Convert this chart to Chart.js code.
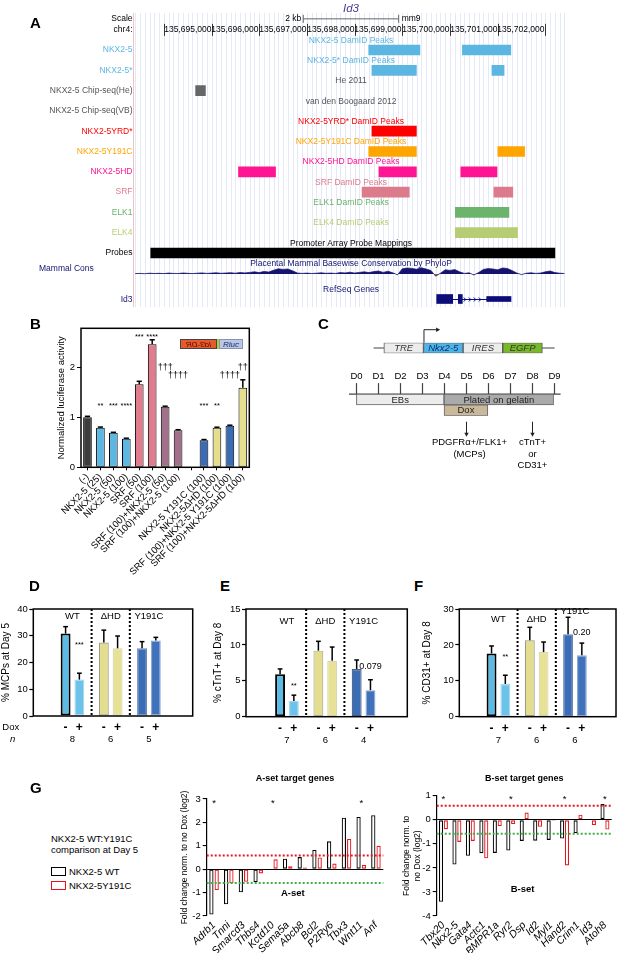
<!DOCTYPE html>
<html>
<head>
<meta charset="utf-8">
<title>NKX2-5 / SRF at the Id3 locus</title>
<script src="https://cdn.jsdelivr.net/npm/chart.js@4.4.1/dist/chart.umd.min.js"></script>
<style>
  html, body { margin: 0; background: #fff; }
  body { position: relative; width: 617px; height: 953px; overflow: hidden;
         font-family: "Liberation Sans", Arial, Helvetica, sans-serif; color: #000; }
  canvas { position: absolute; }
  .panel { position: absolute; font-size: 15px; font-weight: bold; line-height: 1; }
  .inset { position: absolute; top: 339px; height: 10px; box-sizing: border-box;
           font-size: 8px; line-height: 9px; text-align: center; font-style: italic; }
  .legend { position: absolute; font-size: 9.5px; line-height: 11px; white-space: nowrap; }
  .swatch { position: absolute; left: 51px; width: 15px; height: 9px; box-sizing: border-box; }
</style>
</head>
<body>

<canvas id="trackChart"></canvas>
<canvas id="consChart"></canvas>
<canvas id="geneChart"></canvas>
<canvas id="lucChart"></canvas>
<canvas id="constructChart"></canvas>
<canvas id="timeChart"></canvas>
<canvas id="mcpChart"></canvas>
<canvas id="ctntChart"></canvas>
<canvas id="cd31Chart"></canvas>
<canvas id="asetChart"></canvas>
<canvas id="bsetChart"></canvas>

<div class="panel" style="left:30px;top:15px">A</div>
<div class="panel" style="left:30px;top:316px">B</div>
<div class="panel" style="left:318px;top:316px">C</div>
<div class="panel" style="left:29px;top:578px">D</div>
<div class="panel" style="left:220px;top:578px">E</div>
<div class="panel" style="left:414px;top:578px">F</div>
<div class="panel" style="left:30px;top:780px">G</div>

<!-- reporter construct inset of panel B -->
<div class="inset" style="left:180px;width:37px;background:#e8592b;border:1px solid #444;color:#4a1206">
  <span style="display:inline-block;transform:scaleX(-1)">Id3-DR</span></div>
<div class="inset" style="left:216.5px;width:2.5px;background:#a6d13c"></div>
<div class="inset" style="left:219px;width:24px;background:#b9c8e7;border:1px solid #8a94aa;color:#1d2a5a">Rluc</div>

<!-- legend of panel G -->
<div class="legend" style="left:51px;top:833px">NKX2-5 WT:Y191C<br>comparison at Day 5</div>
<div class="swatch" style="top:867px;border:1.4px solid #000"></div>
<div class="legend" style="left:69px;top:866px">NKX2-5 WT</div>
<div class="swatch" style="top:881px;border:1.4px solid #e3161e"></div>
<div class="legend" style="left:69px;top:880px">NKX2-5Y191C</div>

<script>
const FONT = '"Liberation Sans", Arial, Helvetica, sans-serif';
const NAVY = '#141470';

/* ---------- A: Id3 locus, mm9 chr4 ---------- */
const LOCUS_MIN = 135693375;
const LOCUS_MAX = 135702474;
const RULER_TICKS = [135694000, 135695000, 135696000, 135697000, 135698000,
                     135699000, 135700000, 135701000, 135702000];
const SCALE_BAR = [135696924, 135698924];
const TRACK_LABELS = ['NKX2-5', 'NKX2-5*', 'NKX2-5 Chip-seq(He)', 'NKX2-5 Chip-seq(VB)', 'NKX2-5YRD*',
                      'NKX2-5Y191C', 'NKX2-5HD', 'SRF', 'ELK1', 'ELK4', 'Probes'];
const TRACK_TITLES = ['NKX2-5 DamID Peaks', 'NKX2-5* DamID Peaks', 'He 2011', 'van den Boogaard 2012',
                      'NKX2-5YRD* DamID Peaks', 'NKX2-5Y191C DamID Peaks', 'NKX2-5HD DamID Peaks',
                      'SRF DamID Peaks', 'ELK1 DamID Peaks', 'ELK4 DamID Peaks', 'Promoter Array Probe Mappings'];
const TRACK_TEXT_COLORS = ['#5cb6e2', '#5cb6e2', '#555555', '#555555', '#ff0000', '#ffa500',
                           '#ff1493', '#dc7b8c', '#6cb36c', '#b7cd74', '#000000'];
const TRACK_BAR_COLORS  = ['#5cb6e2', '#5cb6e2', '#666666', '#666666', '#ff0000', '#ffa500',
                           '#ff1493', '#dc7b8c', '#6cb36c', '#b7cd74', '#000000'];
const PEAK_TRACK = [0, 0, 1, 1, 2, 4, 5, 5, 6, 6, 6, 7, 7, 8, 9, 10];
const PEAK_START = [135698296, 135700260, 135698363, 135700879, 135694667, 135698363, 135698296, 135701003,
                    135695566, 135698511, 135700227, 135698157, 135700920, 135700112, 135700112, 135693726];
const PEAK_END   = [135699369, 135701275, 135699295, 135701134, 135694872, 135699295, 135699295, 135701564,
                    135696342, 135699295, 135700986, 135699147, 135701317, 135701235, 135701415, 135702199];
// phyloP, 100 bp bins from 135,693,400
const CONS_BIN0 = 135693400;
const CONS_BIN = 100;
const CONS_SCORE = [0.4, 0.6, 0.3, 0.8, 0.5, 0.7, 0.4, 0.9, 0.6, 0.5, 1.0, 0.7, 0.4, 0.8, 1.1, 0.6, 0.9, 1.2,
                    0.7, 1.0, 1.3, 0.8, 1.5, 1.1, 1.6, 2.2, 1.4, 2.6, 2.0, 3.8, 5.2, 4.6, 5.0, 3.2,
                    1.0, 0.6, 0.9, 0.5, 0.8, 1.2, 0.7, 0.9, 0.6, 1.4, 1.1, 1.8, 1.0, 1.6, 2.2, 1.4,
                    2.4, 3.0, 1.6, 2.8, 1.2, -0.8, 5.2, 6.0, 5.6, 4.8, 6.2, 5.0, 3.6, -2.2, 0.8,
                    4.2, 3.6, 4.4, 2.2, 0.6, 1.2, -1.0, 1.4, 4.6, 5.4, 5.0, 4.2, 6.0, 5.6, 3.4,
                    1.0, -0.6, 0.8, 1.2, 0.6, 1.0, 2.2, 3.0, 1.4, 0.8, 0.5];
const ID3_EXON_START = [135699721, 135700174, 135700769];
const ID3_EXON_END   = [135700057, 135700258, 135701279];
const ID3_EXON_CDS   = [true, true, false];

/* ---------- B: Id3-DR luciferase ---------- */
const LUC_LABELS = ['(-)', 'NKX2-5 (25)', 'NKX2-5 (50)', 'NKX2-5 (100)', 'SRF (50)', 'SRF (100)',
                    'SRF (100)+NKX2-5 (50)', 'SRF (100)+NKX2-5 (100)', '',
                    'NKX2-5 Y191C (100)', 'NKX2-5\u0394HD (100)', 'SRF (100)+NKX2-5 Y191C (100)',
                    'SRF (100)+NKX2-5\u0394HD (100)'];
const LUC_VALUES = [1.0, 0.79, 0.69, 0.57, 1.66, 2.46, 1.21, 0.74, null, 0.54, 0.79, 0.83, 1.59];
const LUC_ERRORS = [0.02, 0.015, 0.01, 0.012, 0.06, 0.09, 0.012, 0.012, null, 0.015, 0.012, 0.012, 0.16];
const LUC_COLORS = ['#3c3c3c', '#5cb8e2', '#5cb8e2', '#5cb8e2', '#e07c8c', '#e07c8c', '#a1708a', '#a1708a',
                    '#ffffff', '#3a6cb6', '#e4de8e', '#3a6cb6', '#e4de8e'];
const LUC_MARKS   = ['', '**', '***', '****', '***', '****', '\u2020\u2020\u2020', '\u2020\u2020\u2020\u2020', '',
                     '***', '**', '\u2020\u2020\u2020\u2020', '\u2020\u2020'];
const LUC_MARK_AT = [null, 1.27, 1.27, 1.27, 2.65, 2.65, 2.0, 1.83, null, 1.27, 1.27, 1.83, 2.0];

/* ---------- C: differentiation scheme ---------- */
const CONSTRUCT_PARTS  = ['TRE', 'Nkx2-5', 'IRES', 'EGFP'];
const CONSTRUCT_START  = [0, 1, 2, 3];
const CONSTRUCT_END    = [1, 2, 3, 4];
const CONSTRUCT_COLORS = ['#ececec', '#4fb4e6', '#ececec', '#79b82b'];
const DAYS = [0, 1, 2, 3, 4, 5, 6, 7, 8, 9];
const STAGES = ['EBs', 'Plated on gelatin', 'Dox'];
const STAGE_ROW = ['culture', 'culture', 'dox'];
const STAGE_START = [0, 4, 4];
const STAGE_END = [4, 9, 6];
const STAGE_COLORS = ['#ececec', '#aaaaaa', '#c9b99a'];
const READOUT_DAY = [5, 8];
const READOUT_TEXT = [['PDGFR\u03b1+/FLK1+', '(MCPs)'], ['cTnT+', 'or', 'CD31+']];

/* ---------- D-F: Dox induction ---------- */
const DOX_GROUPS = ['WT', '\u0394HD', 'Y191C'];
const DOX_SIGNS = ['-', '+'];
const MCP_NODOX = [30.8, 27.5, 25.3];
const MCP_NODOX_ERR = [2.6, 4.6, 2.5];
const MCP_DOX = [13.6, 25.3, 28.2];
const MCP_DOX_ERR = [2.4, 4.6, 1.2];
const MCP_N = [8, 6, 5];
const CTNT_NODOX = [5.9, 9.2, 6.65];
const CTNT_NODOX_ERR = [0.75, 1.3, 1.25];
const CTNT_DOX = [2.2, 7.8, 3.7];
const CTNT_DOX_ERR = [0.8, 1.9, 1.45];
const CTNT_N = [7, 6, 4];
const CD31_NODOX = [17.6, 21.3, 23.0];
const CD31_NODOX_ERR = [2.1, 3.6, 4.7];
const CD31_DOX = [9.1, 18.0, 17.1];
const CD31_DOX_ERR = [2.45, 2.8, 3.4];
const CD31_N = [7, 6, 6];

/* ---------- G: target genes, log2 fold change ---------- */
const ASET_GENES = ['Adrb1', 'Tnni', 'Smarcd3', 'Thbs4', 'Kctd10', 'Sema5a', 'Abcb8', 'Bcl2', 'P2Ry6', 'Tbx3', 'Wnt11', 'Anf'];
const ASET_WT    = [-1.94, -1.5, -0.99, -0.55, -0.03, 0.45, 0.52, 0.82, 1.19, 2.2, 2.23, 2.31];
const ASET_Y191C = [-0.89, -0.6, -0.54, -0.18, 0.42, 0.13, 0.07, 0.5, 0.24, 1.29, 0.18, 1.0];
const ASET_STARS = [0, 4, 10];
const BSET_GENES = ['Tbx20', 'Nkx2-5', 'Gata4', 'Actc1', 'BMPR1a', 'Ryr2', 'Dsp', 'Id2', 'Myl1', 'Hand2', 'Crim1', 'Id3', 'Atoh8'];
const BSET_WT    = [-3.41, -1.86, -1.5, -1.39, -1.38, -1.28, -0.88, -0.87, -0.84, -0.78, -0.55, 0, 0.65];
const BSET_Y191C = [-0.39, -0.92, -0.88, -1.6, -0.26, -0.18, 0.3, -0.29, -0.04, -1.9, 0.21, -0.22, -0.41];
const BSET_STARS = [0, 5, 9, 12];
const FC_CUTOFF = 0.585;


Chart.defaults.font.family = FONT;
Chart.defaults.font.size = 9;
Chart.defaults.color = '#000';
Chart.defaults.animation = false;
Chart.defaults.responsive = false;
Chart.defaults.devicePixelRatio = 1;
Chart.defaults.plugins.legend.display = false;
Chart.defaults.plugins.tooltip.enabled = false;

function place(id, left, top, w, h) {
  const cv = document.getElementById(id);
  cv.width = w; cv.height = h;
  cv.style.left = left + 'px';
  cv.style.top = top + 'px';
  return cv;
}

function drawText(ctx, str, x, y, o = {}) {
  ctx.save();
  ctx.font = `${o.style || 'normal'} ${o.weight || 'normal'} ${o.size || 9}px ${FONT}`;
  ctx.fillStyle = o.color || '#000';
  ctx.textAlign = o.align || 'center';
  ctx.textBaseline = o.base || 'middle';
  ctx.translate(x, y + (o.dy || 0));
  if (o.rot) ctx.rotate(o.rot);
  ctx.fillText(str, 0, 0);
  ctx.restore();
}

function seg(ctx, x1, y1, x2, y2) {
  ctx.beginPath(); ctx.moveTo(x1, y1); ctx.lineTo(x2, y2); ctx.stroke();
}

function arrowDown(ctx, x, y1, y2) {
  seg(ctx, x, y1, x, y2 - 3);
  ctx.beginPath(); ctx.moveTo(x - 2.2, y2 - 4); ctx.lineTo(x + 2.2, y2 - 4); ctx.lineTo(x, y2); ctx.closePath(); ctx.fill();
}

const withCommas = n => String(n).replace(/\B(?=(\d{3})+(?!\d))/g, ',');


// ── shared plugins ─────────────────────────────────────────────
const framePlugin = {
  id: 'frame',
  afterDatasetsDraw(chart) {
    const { ctx, chartArea: a } = chart;
    ctx.save();
    ctx.strokeStyle = '#000'; ctx.lineWidth = 1.5;
    ctx.strokeRect(a.left, a.top, a.width, a.height);
    ctx.restore();
  }
};

const errorPlugin = {
  id: 'errorBars',
  afterDatasetsDraw(chart, args, opts) {
    const { ctx, scales: { y } } = chart;
    ctx.save();
    ctx.strokeStyle = '#000'; ctx.lineWidth = 1.5;
    (opts.sets || []).forEach((errs, di) => {
      const vals = chart.data.datasets[di].data;
      chart.getDatasetMeta(di).data.forEach((bar, i) => {
        const e = errs[i], raw = vals[i];
        if (!e || raw === null) return;
        const v = typeof raw === 'object' ? raw.y : raw;
        const top = y.getPixelForValue(v + e);
        const half = bar.width * (opts.cap || 0.24);
        seg(ctx, bar.x, bar.y, bar.x, top);
        seg(ctx, bar.x - half, top, bar.x + half, top);
      });
    });
    ctx.restore();
  }
};

const notesPlugin = {
  id: 'notes',
  afterDatasetsDraw(chart, args, opts) {
    const { ctx, scales } = chart;
    (opts.items || []).forEach(n => {
      drawText(ctx, n.text, scales.x.getPixelForValue(n.xv), scales.y.getPixelForValue(n.yv), n);
    });
  }
};


// ── A: UCSC-style browser tracks ───────────────────────────────
const ucscPlugin = {
  id: 'ucsc',
  beforeDatasetsDraw(chart) {
    const { ctx, chartArea: a, scales: { x } } = chart;
    ctx.save();
    ctx.strokeStyle = '#e4e8f7'; ctx.lineWidth = 1;
    for (let p = Math.ceil(LOCUS_MIN / 100) * 100; p <= LOCUS_MAX; p += 100) {
      const px = Math.round(x.getPixelForValue(p)) + 0.5;
      seg(ctx, px, 13, px, 307);
    }
    ctx.strokeStyle = '#f1c2c2';
    seg(ctx, a.left - 0.5, 13, a.left - 0.5, 307);
    ctx.restore();
  },
  afterDatasetsDraw(chart) {
    const { ctx, chartArea: a, scales: { x, y } } = chart;
    const mid = (a.left + a.right) / 2;
    const f = { size: 8.5 };

    drawText(ctx, 'Id3', mid, 9, { size: 11.5, style: 'italic', color: '#4a3d8f' });

    // scale bar
    const sy = a.top - 21;
    const s0 = x.getPixelForValue(SCALE_BAR[0]), s1 = x.getPixelForValue(SCALE_BAR[1]);
    ctx.save();
    ctx.strokeStyle = '#666'; ctx.lineWidth = 1;
    seg(ctx, s0, sy, s1, sy);
    seg(ctx, s0, sy - 4, s0, sy + 4);
    seg(ctx, s1, sy - 4, s1, sy + 4);
    ctx.restore();
    drawText(ctx, 'Scale', a.left - 1.5, sy, { ...f, align: 'right' });
    drawText(ctx, '2 kb', s0 - 2, sy, { ...f, align: 'right' });
    drawText(ctx, 'mm9', s1 + 3, sy, { ...f, align: 'left' });

    // base position ruler
    const ry = a.top - 10;
    drawText(ctx, 'chr4:', a.left - 1.5, ry, { ...f, align: 'right' });
    ctx.save();
    ctx.strokeStyle = '#333'; ctx.lineWidth = 1;
    RULER_TICKS.forEach((p, i) => {
      const px = Math.round(x.getPixelForValue(p)) + 0.5;
      seg(ctx, px, ry - 6, px, ry + 6);
      if (i > 0) drawText(ctx, withCommas(p), px - 1, ry, { ...f, align: 'right' });
    });
    ctx.restore();

    // track names and titles
    TRACK_LABELS.forEach((lab, i) => {
      const py = y.getPixelForValue(i);
      drawText(ctx, lab, a.left - 1.5, py, { ...f, align: 'right', color: TRACK_TEXT_COLORS[i] });
      drawText(ctx, TRACK_TITLES[i], mid, py - 9.7, { ...f, color: TRACK_TEXT_COLORS[i] });
    });
    drawText(ctx, 'Placental Mammal Basewise Conservation by PhyloP', mid, a.bottom + 0.2, { ...f, color: NAVY });
    drawText(ctx, 'Mammal Cons', 39, a.bottom + 5.6, { ...f, align: 'left', color: NAVY });
    drawText(ctx, 'RefSeq Genes', mid, a.bottom + 26.2, { ...f, color: NAVY });
  }
};

new Chart(place('trackChart', 0, 0, 617, 310), {
  type: 'bar',
  data: {
    labels: TRACK_LABELS,
    datasets: [{
      data: PEAK_TRACK.map((t, i) => ({ x: [PEAK_START[i], PEAK_END[i]], y: TRACK_LABELS[t] })),
      backgroundColor: PEAK_TRACK.map(t => TRACK_BAR_COLORS[t]),
      borderWidth: 0,
      barThickness: 10
    }]
  },
  options: {
    indexAxis: 'y',
    layout: { padding: { left: 134, right: 49, top: 39.85, bottom: 46.85 } },
    scales: {
      x: { type: 'linear', min: LOCUS_MIN, max: LOCUS_MAX, display: false },
      y: { display: false }
    }
  },
  plugins: [ucscPlugin]
});

new Chart(place('consChart', 0, 262, 617, 16), {
  type: 'line',
  data: {
    datasets: [{
      data: CONS_SCORE.map((v, i) => ({ x: CONS_BIN0 + i * CONS_BIN, y: v })),
      borderColor: NAVY, borderWidth: 0.7, pointRadius: 0, tension: 0,
      fill: { target: 'origin', above: NAVY, below: '#a4553a' }
    }]
  },
  options: {
    layout: { padding: { left: 134, right: 49, top: 0, bottom: 0 } },
    scales: {
      x: { type: 'linear', min: LOCUS_MIN, max: LOCUS_MAX, display: false },
      y: { min: -4, max: 12, display: false }
    }
  }
});

const genePlugin = {
  id: 'gene',
  beforeDatasetsDraw(chart) {
    const { ctx, scales: { x, y } } = chart;
    const cy = y.getPixelForValue(0);
    const g0 = x.getPixelForValue(Math.min(...ID3_EXON_START));
    const g1 = x.getPixelForValue(Math.max(...ID3_EXON_END));
    ctx.save();
    ctx.strokeStyle = '#0c0c7a'; ctx.lineWidth = 1;
    seg(ctx, g0, cy + 0.5, g1, cy + 0.5);
    // strand chevrons along the intron
    const i0 = x.getPixelForValue(ID3_EXON_END[1]) + 3, i1 = x.getPixelForValue(ID3_EXON_START[2]) - 2;
    for (let px = i0; px < i1; px += 5) {
      ctx.beginPath(); ctx.moveTo(px - 1.5, cy - 1.5); ctx.lineTo(px + 0.5, cy + 0.5); ctx.lineTo(px - 1.5, cy + 2.5); ctx.stroke();
    }
    ctx.restore();
    drawText(ctx, 'Id3', 132.5, cy + 1, { size: 8.5, align: 'right', color: NAVY });
  }
};

new Chart(place('geneChart', 0, 292, 617, 14), {
  type: 'bar',
  data: {
    labels: ['Id3'],
    datasets: [
      { data: ID3_EXON_START.map((s, i) => ID3_EXON_CDS[i] ? { x: [s, ID3_EXON_END[i]], y: 'Id3' } : null).filter(Boolean),
        backgroundColor: '#0c0c7a', borderWidth: 0, barThickness: 9 },
      { data: ID3_EXON_START.map((s, i) => ID3_EXON_CDS[i] ? null : { x: [s, ID3_EXON_END[i]], y: 'Id3' }).filter(Boolean),
        backgroundColor: '#0c0c7a', borderWidth: 0, barThickness: 5 }
    ]
  },
  options: {
    indexAxis: 'y',
    datasets: { bar: { grouped: false } },
    layout: { padding: { left: 134, right: 49, top: 0, bottom: 0 } },
    scales: {
      x: { type: 'linear', min: LOCUS_MIN, max: LOCUS_MAX, display: false },
      y: { display: false }
    }
  },
  plugins: [genePlugin]
});


// ── B: luciferase reporter ─────────────────────────────────────
new Chart(place('lucChart', 0, 305, 262, 270), {
  type: 'bar',
  data: {
    labels: LUC_LABELS,
    datasets: [{
      data: LUC_VALUES,
      backgroundColor: LUC_COLORS,
      borderColor: '#000', borderWidth: 1, borderSkipped: false,
      barPercentage: 0.67, categoryPercentage: 1
    }]
  },
  options: {
    layout: { padding: { left: 52, right: 12.7, top: 23.3, bottom: 0 } },
    scales: {
      x: {
        grid: { drawOnChartArea: false, offset: false, tickLength: 3, tickColor: '#000' },
        border: { display: false },
        ticks: { maxRotation: 45, minRotation: 45, autoSkip: false, padding: 1, font: { size: 9.5 } },
        afterFit: s => { s.height = 107.7; }
      },
      y: {
        min: 0, max: 2.78,
        ticks: { stepSize: 1, includeBounds: false, padding: 2, font: { size: 9.5 } },
        grid: { drawOnChartArea: false, tickLength: 4, tickColor: '#000' },
        border: { display: false },
        title: { display: true, text: 'Normalized luciferase activity', font: { size: 9.5 }, padding: { top: 4, bottom: 0 } },
        afterFit: s => { s.width = 29; }
      }
    },
    plugins: {
      errorBars: { sets: [LUC_ERRORS], cap: 0.3 },
      notes: {
        items: LUC_MARKS.map((t, i) => t ? {
          xv: i, yv: LUC_MARK_AT[i], text: t,
          size: t.includes('*') ? 7.5 : 9, dy: t.includes('*') ? 2 : 0
        } : null).filter(Boolean)
      }
    }
  },
  plugins: [framePlugin, errorPlugin, notesPlugin]
});


// ── C: construct and timeline ──────────────────────────────────
const constructPlugin = {
  id: 'construct',
  beforeDatasetsDraw(chart) {
    const { ctx, scales: { x, y } } = chart;
    const cy = y.getPixelForValue(0);
    ctx.save();
    ctx.strokeStyle = '#444'; ctx.lineWidth = 1.2;
    seg(ctx, x.getPixelForValue(-0.26), cy, x.getPixelForValue(4.31), cy);
    ctx.restore();
  },
  afterDatasetsDraw(chart) {
    const { ctx, chartArea: a, scales: { x } } = chart;
    chart.getDatasetMeta(0).data.forEach((bar, i) => {
      drawText(ctx, CONSTRUCT_PARTS[i], (bar.x + bar.base) / 2, bar.y + 0.5,
        { size: 9.5, style: 'italic', color: i === 1 ? '#0d2d6e' : '#333' });
    });
    // transcription start arrow
    const px = x.getPixelForValue(CONSTRUCT_START[1]) + 0.5, tip = x.getPixelForValue(1.42);
    ctx.save();
    ctx.strokeStyle = '#222'; ctx.fillStyle = '#222'; ctx.lineWidth = 1;
    ctx.beginPath(); ctx.moveTo(px, a.top); ctx.lineTo(px, a.top - 13); ctx.lineTo(tip - 3, a.top - 13); ctx.stroke();
    ctx.beginPath(); ctx.moveTo(tip - 4, a.top - 15.2); ctx.lineTo(tip, a.top - 13); ctx.lineTo(tip - 4, a.top - 10.8); ctx.closePath(); ctx.fill();
    ctx.restore();
  }
};

new Chart(place('constructChart', 368, 322, 193, 38), {
  type: 'bar',
  data: {
    labels: ['construct'],
    datasets: [{
      data: CONSTRUCT_START.map((s, i) => ({ x: [s, CONSTRUCT_END[i]], y: 'construct' })),
      backgroundColor: CONSTRUCT_COLORS,
      borderColor: '#555', borderWidth: 1, borderSkipped: false,
      barPercentage: 1, categoryPercentage: 1
    }]
  },
  options: {
    indexAxis: 'y',
    layout: { padding: { left: 0, right: 0, top: 20.7, bottom: 6.7 } },
    scales: {
      x: { type: 'linear', min: -0.4, max: 4.47, display: false },
      y: { display: false }
    }
  },
  plugins: [constructPlugin]
});

const timelinePlugin = {
  id: 'timeline',
  beforeDatasetsDraw(chart) {
    const { ctx, chartArea: a, scales: { x } } = chart;
    ctx.save();
    ctx.strokeStyle = '#444'; ctx.lineWidth = 1.2;
    seg(ctx, x.getPixelForValue(-0.34), a.top, x.getPixelForValue(9.32), a.top);
    DAYS.forEach(d => {
      const px = Math.round(x.getPixelForValue(d)) + 0.5;
      seg(ctx, px, a.top - 11, px, a.top);
      drawText(ctx, 'D' + d, px, a.top - 18, { size: 9.5 });
    });
    ctx.restore();
  },
  afterDatasetsDraw(chart) {
    const { ctx, chartArea: a, scales: { x } } = chart;
    chart.getDatasetMeta(0).data.forEach((bar, i) => {
      drawText(ctx, STAGES[i], (bar.x + bar.base) / 2, bar.y + 0.5, { size: 9.5, color: '#222' });
    });
    ctx.save();
    ctx.strokeStyle = '#222'; ctx.fillStyle = '#222'; ctx.lineWidth = 1;
    READOUT_DAY.forEach((d, i) => {
      const px = Math.round(x.getPixelForValue(d)) + 0.5;
      arrowDown(ctx, px, a.bottom + 6, a.bottom + 21);
      READOUT_TEXT[i].forEach((t, k) => {
        drawText(ctx, t, px + (i === 0 ? 3 : 0), a.bottom + 27 + k * 11.2, { size: 9.5 });
      });
    });
    ctx.restore();
  }
};

new Chart(place('timeChart', 340, 365, 230, 112), {
  type: 'bar',
  data: {
    labels: ['culture', 'dox'],
    datasets: [{
      data: STAGE_START.map((s, i) => ({ x: [s, STAGE_END[i]], y: STAGE_ROW[i] })),
      backgroundColor: STAGE_COLORS,
      borderColor: '#666', borderWidth: 1, borderSkipped: false,
      barPercentage: 1, categoryPercentage: 1
    }]
  },
  options: {
    indexAxis: 'y',
    layout: { padding: { left: 0, right: 0, top: 29.1, bottom: 61.3 } },
    scales: {
      x: { type: 'linear', min: -0.75, max: 9.75, display: false },
      y: { display: false }
    }
  },
  plugins: [timelinePlugin]
});


// ── D–F: Dox-induced overexpression ────────────────────────────
const doxPlugin = {
  id: 'dox',
  beforeDatasetsDraw(chart, args, o) {
    const { ctx, chartArea: a, scales: { x } } = chart;
    ctx.save();
    ctx.strokeStyle = '#000'; ctx.lineWidth = 2; ctx.setLineDash([2, 2]);
    [0.5, 1.5].forEach(v => {
      const px = x.getPixelForValue(v);
      seg(ctx, px, a.top, px, a.bottom);
    });
    ctx.restore();
  },
  afterDatasetsDraw(chart, args, o) {
    const { ctx, chartArea: a, scales: { x, y } } = chart;
    DOX_GROUPS.forEach((g, i) => drawText(ctx, g, x.getPixelForValue(i), a.top + o.groupY[i], { size: 9.5 }));
    chart.data.datasets.forEach((ds, di) => {
      chart.getDatasetMeta(di).data.forEach(bar => {
        drawText(ctx, DOX_SIGNS[di], bar.x, a.bottom + 11.5, { size: 12, weight: 'bold' });
      });
    });
    o.n.forEach((n, i) => drawText(ctx, String(n), x.getPixelForValue(i), a.bottom + 23.5, { size: 9.5 }));
    o.marks.forEach(m => {
      const bar = chart.getDatasetMeta(1).data[m.g];
      drawText(ctx, m.text, bar.x, y.getPixelForValue(m.v), { size: m.size, dy: m.dy || 0 });
    });
    if (o.rowLabels) {
      drawText(ctx, 'Dox', a.left - 31, a.bottom + 11.5, { size: 9.5, align: 'left' });
      drawText(ctx, 'n', a.left - 20.6, a.bottom + 23.5, { size: 9.5, style: 'italic' });
    }
  }
};

function doxChart(id, box, cfg) {
  return new Chart(place(id, ...box.canvas), {
    type: 'bar',
    data: {
      datasets: [
        { data: cfg.noDox.map((v, i) => ({ x: i, y: v })),
          backgroundColor: ['#5bbbe5', '#e3dd8d', '#3a6db5'],
          borderColor: cfg.noDoxBorder, borderWidth: [2, 1.2, 1.2], borderSkipped: false },
        { data: cfg.dox.map((v, i) => ({ x: i, y: v })),
          backgroundColor: ['#6cc3ea', '#e6e195', '#3f72ba'],
          borderColor: ['#a8d7ef', '#d8d6b2', '#8ea8d4'], borderWidth: 1.2, borderSkipped: false }
      ]
    },
    options: {
      datasets: { bar: { categoryPercentage: 0.72, barPercentage: 0.72 } },
      layout: { padding: box.pad },
      scales: {
        x: { type: 'linear', min: box.xmin, max: box.xmax, display: false, ticks: { stepSize: 1, includeBounds: false } },
        y: {
          min: 0, max: cfg.ymax,
          ticks: { stepSize: cfg.ystep, padding: 1.5, font: { size: 9.5 } },
          grid: { drawOnChartArea: false, tickLength: 4, tickColor: '#000', tickWidth: 1.2 },
          border: { display: false },
          title: { display: true, text: cfg.title, font: { size: 10 }, padding: { top: 0, bottom: 0 } },
          afterFit: s => { s.width = box.yw; }
        }
      },
      plugins: {
        errorBars: { sets: [cfg.noDoxErr, cfg.doxErr], cap: 0.24 },
        dox: { groupY: cfg.groupY, n: cfg.n, marks: cfg.marks, rowLabels: cfg.rowLabels }
      }
    },
    plugins: [doxPlugin, framePlugin, errorPlugin]
  });
}

doxChart('mcpChart',
  { canvas: [0, 595, 200, 150], pad: { left: 0, right: 7.3, top: 14, bottom: 29 }, yw: 33.3, xmin: -0.33, xmax: 2.45 },
  { noDox: MCP_NODOX, noDoxErr: MCP_NODOX_ERR, dox: MCP_DOX, doxErr: MCP_DOX_ERR, n: MCP_N,
    noDoxBorder: ['#000', '#9a9a8a', '#6b85b8'],
    ymax: 40, ystep: 10, title: '% MCPs at Day 5', groupY: [7.7, 7.7, 7.7], rowLabels: true,
    marks: [{ g: 0, text: '***', v: 27.4, size: 7.5, dy: 2 }] });

doxChart('ctntChart',
  { canvas: [200, 595, 215, 150], pad: { left: 12, right: 7.7, top: 14, bottom: 28.3 }, yw: 34, xmin: -0.368, xmax: 2.44 },
  { noDox: CTNT_NODOX, noDoxErr: CTNT_NODOX_ERR, dox: CTNT_DOX, doxErr: CTNT_DOX_ERR, n: CTNT_N,
    noDoxBorder: ['#000', '#b3b3a0', '#4d5d80'],
    ymax: 15, ystep: 5, title: '% cTnT+ at Day 8', groupY: [12, 12, 12], rowLabels: false,
    marks: [{ g: 0, text: '**', v: 4.5, size: 7.5, dy: 2 }, { g: 2, text: '0.079', v: 6.97, size: 9 }] });

doxChart('cd31Chart',
  { canvas: [410, 595, 207, 150], pad: { left: 11.3, right: 1, top: 14, bottom: 28.3 }, yw: 38, xmin: -0.34, xmax: 2.39 },
  { noDox: CD31_NODOX, noDoxErr: CD31_NODOX_ERR, dox: CD31_DOX, doxErr: CD31_DOX_ERR, n: CD31_N,
    noDoxBorder: ['#000', '#9a9a8a', '#6b85b8'],
    ymax: 30, ystep: 10, title: '% CD31+ at Day 8', groupY: [10, 10, 2.7], rowLabels: false,
    marks: [{ g: 0, text: '**', v: 17.3, size: 7.5, dy: 2 }, { g: 2, text: '0.20', v: 23.4, size: 9 }] });


// ── G: A-set / B-set fold changes ──────────────────────────────
const fcPlugin = {
  id: 'fc',
  afterDatasetsDraw(chart, args, o) {
    const { ctx, chartArea: a, scales: { x, y } } = chart;
    ctx.save();
    ctx.lineWidth = 2; ctx.setLineDash([2, 2]);
    ctx.strokeStyle = '#e3161e';
    seg(ctx, a.left, y.getPixelForValue(FC_CUTOFF), a.right, y.getPixelForValue(FC_CUTOFF));
    ctx.strokeStyle = '#3fae49';
    seg(ctx, a.left, y.getPixelForValue(-FC_CUTOFF), a.right, y.getPixelForValue(-FC_CUTOFF));
    ctx.restore();
    o.stars.forEach(i => drawText(ctx, '*', x.getPixelForValue(i), a.top + 2.5, { size: 9.5, dy: 1.5 }));
    drawText(ctx, o.setName, x.getPixelForValue(o.setAt[0]), y.getPixelForValue(o.setAt[1]), { size: 9.5, weight: 'bold' });
    drawText(ctx, o.heading, (a.left + a.right) / 2, a.top - o.headingGap, { size: 9, weight: 'bold' });
  }
};

function fcChart(id, box, cfg) {
  return new Chart(place(id, ...box.canvas), {
    type: 'bar',
    data: {
      labels: cfg.genes,
      datasets: [
        { data: cfg.wt, backgroundColor: 'rgba(255,255,255,0)', borderColor: '#000', borderWidth: 1.1, borderSkipped: false },
        { data: cfg.mut, backgroundColor: 'rgba(255,255,255,0)', borderColor: '#e3161e', borderWidth: 1.1, borderSkipped: false }
      ]
    },
    options: {
      datasets: { bar: { categoryPercentage: 0.72, barPercentage: cfg.barPct } },
      layout: { padding: box.pad },
      scales: {
        x: {
          grid: { display: false, drawTicks: false },
          border: { display: false },
          ticks: { maxRotation: 45, minRotation: 45, autoSkip: false, padding: 3, font: { size: 10.5, style: 'italic' } },
          afterFit: s => { s.height = box.xh; }
        },
        y: {
          min: cfg.ymin, max: cfg.ymax,
          ticks: { stepSize: 1, padding: 2, font: { size: 9.5 } },
          grid: { color: c => (c.tick && c.tick.value === 0 ? '#000' : 'rgba(0,0,0,0)'), tickColor: '#000', tickLength: 4, lineWidth: 1.1 },
          border: { display: true, color: '#000', width: 1.2 },
          title: { display: true, text: cfg.title, font: { size: 8.5 }, padding: { top: 0, bottom: 0 } },
          afterFit: s => { s.width = box.yw; }
        }
      },
      plugins: { fc: { stars: cfg.stars, setName: cfg.setName, setAt: cfg.setAt, heading: cfg.heading, headingGap: box.headingGap } }
    },
    plugins: [fcPlugin]
  });
}

fcChart('asetChart',
  { canvas: [150, 775, 240, 178], pad: { left: 29.6, right: 6.7, top: 24, bottom: 0 }, yw: 27.1, xh: 37, headingGap: 20 },
  { genes: ASET_GENES, wt: ASET_WT, mut: ASET_Y191C, stars: ASET_STARS, barPct: 0.8,
    ymin: -2, ymax: 3, title: 'Fold change norm. to no Dox (log2)',
    setName: 'A-set', setAt: [5.35, -1.03], heading: 'A-set target genes' });

fcChart('bsetChart',
  { canvas: [390, 775, 227, 178], pad: { left: 12, right: 3.7, top: 20.7, bottom: 0 }, yw: 34.7, xh: 37, headingGap: 16.7 },
  { genes: BSET_GENES, wt: BSET_WT, mut: BSET_Y191C, stars: BSET_STARS, barPct: 0.85,
    ymin: -4, ymax: 1, title: ['Fold change norm. to', 'no Dox (log2)'],
    setName: 'B-set', setAt: [5.88, -2.89], heading: 'B-set target genes' });
</script>
</body>
</html>
